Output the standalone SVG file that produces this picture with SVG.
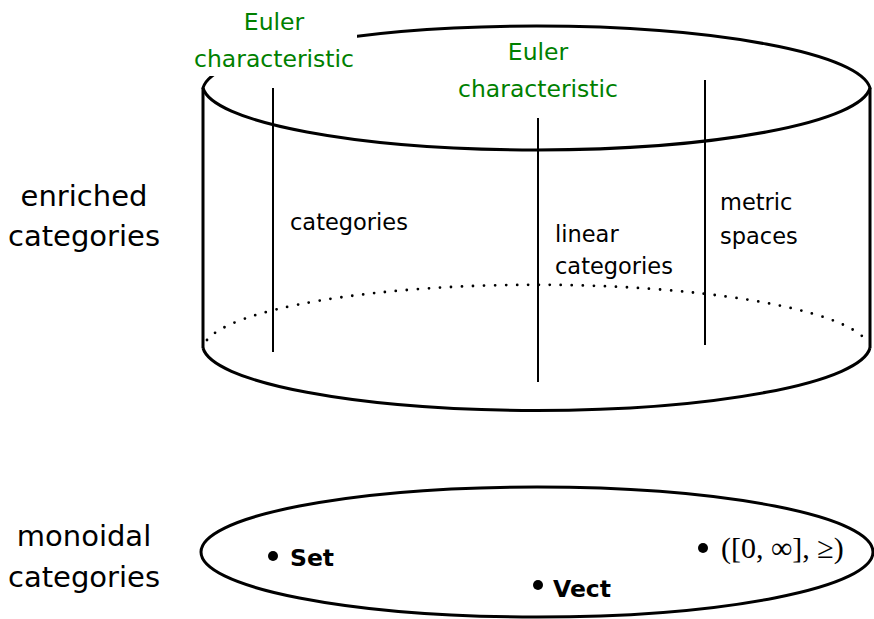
<svg xmlns="http://www.w3.org/2000/svg" width="874" height="619" viewBox="0 0 874 619">
<style>
.shape{fill:none;stroke:#000;stroke-width:3}
.fib{fill:none;stroke:#000;stroke-width:2}
.dots{fill:none;stroke:#000;stroke-width:2.8;stroke-linecap:round;stroke-dasharray:0 11}
.t{font-family:"DejaVu Sans","Liberation Sans",sans-serif;fill:#000}
.g{font-family:"DejaVu Sans","Liberation Sans",sans-serif;fill:#008000;font-size:23.5px;text-anchor:middle}
.side{font-size:29px;text-anchor:middle}
.in{font-size:22.5px}
.b{font-weight:bold;font-size:23.5px}
.m{font-family:"Liberation Serif","DejaVu Serif",serif;font-size:30px;fill:#000}
.dot{fill:#000}
</style>
<g id="enriched-categories">
  <path class="shape" d="M203,88 A334,65.5 0 0 1 870,88 A334,65.5 0 0 1 203,88 Z"/>
  <path class="shape" d="M203,88 L203,348"/>
  <path class="shape" d="M870,88 L870,348"/>
  <path class="shape" d="M203,348 A334,66 0 0 0 870,348"/>
  <path class="dots" d="M207,340 A334,66 0 0 1 866,340"/>
</g>
<g id="connectors">
  <line class="fib" x1="273" y1="88" x2="273" y2="352"/>
  <line class="fib" x1="538" y1="118" x2="538" y2="382"/>
  <line class="fib" x1="705" y1="80" x2="705" y2="345"/>
</g>
<g id="label-euler-1">
  <rect x="186" y="0" width="171" height="76" fill="#fff"/>
  <text class="g" x="274" y="30">Euler</text>
  <text class="g" x="274" y="67">characteristic</text>
</g>
<g id="label-euler-2">
  <text class="g" x="538" y="60">Euler</text>
  <text class="g" x="538" y="97">characteristic</text>
</g>
<g id="label-categories">
  <text class="t in" x="290" y="230">categories</text>
</g>
<g id="label-linear">
  <text class="t in" x="555" y="242">linear</text>
  <text class="t in" x="555" y="274">categories</text>
</g>
<g id="label-metric">
  <text class="t in" x="720" y="210">metric</text>
  <text class="t in" x="720" y="244">spaces</text>
</g>
<g id="label-enriched">
  <text class="t side" x="84" y="206">enriched</text>
  <text class="t side" x="84" y="246">categories</text>
</g>
<g id="label-monoidal">
  <text class="t side" x="84" y="546">monoidal</text>
  <text class="t side" x="84" y="587">categories</text>
</g>
<g id="monoidal-categories">
  <ellipse class="shape" cx="537" cy="552" rx="336" ry="65"/>
</g>
<g id="obj-set">
  <circle class="dot" cx="273" cy="556" r="5"/>
  <text class="t b" x="290" y="566">Set</text>
</g>
<g id="obj-vect">
  <circle class="dot" cx="538" cy="585" r="5"/>
  <text class="t b" x="553" y="597">Vect</text>
</g>
<g id="obj-metric">
  <circle class="dot" cx="703" cy="548" r="5"/>
  <text class="m" x="721" y="558">([0, ∞], ≥)</text>
</g>
</svg>
